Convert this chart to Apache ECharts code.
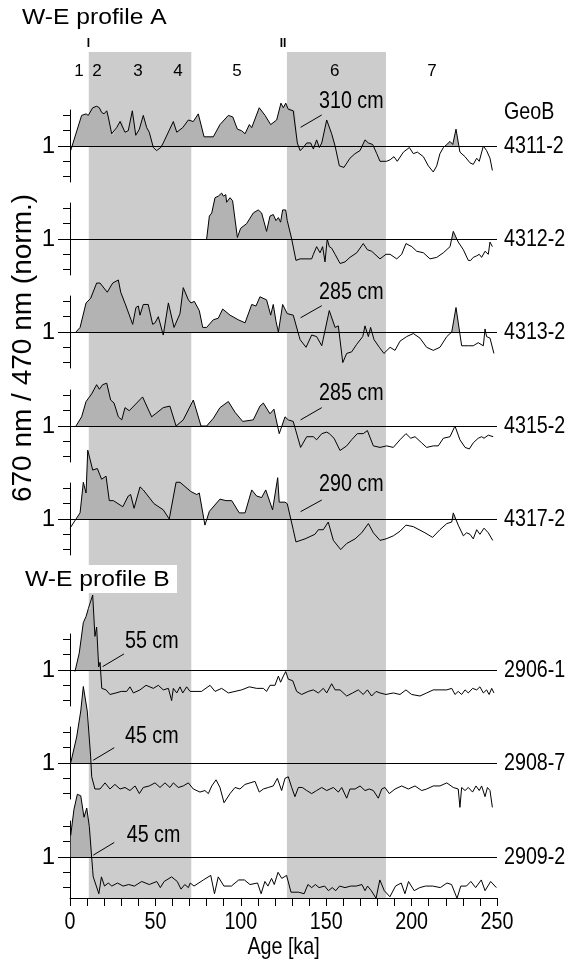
<!DOCTYPE html>
<html>
<head>
<meta charset="utf-8">
<script src="https://cdn.jsdelivr.net/npm/echarts@6/dist/echarts.min.js"></script>
<style>
  html, body { margin: 0; padding: 0; background: #fff; }
  #chart { width: 577px; height: 965px; }
</style>
</head>
<body>
<div id="chart"></div>
<script>
// ---- Age axis ----
const ageMin = 0;
const ageMax = 250;
const ageTickLabels = [0, 50, 100, 150, 200, 250];

// ---- Glacial intervals (shaded), ka ----
const glacialBands = [[11, 71], [127, 185]];

// ---- Marine isotope stages and terminations ----
const stageNames = ['1', '2', '3', '4', '5', '6', '7'];
const stageAges = [5.3, 15.8, 39.8, 63.2, 97.8, 155, 212];
const terminationNames = ['I', 'II'];
const terminationAges = [10.8, 124.7];

// ---- Core names (GeoB) ----
const coreNames = ['4311-2', '4312-2', '4313-2', '4315-2', '4317-2', '2906-1', '2908-7', '2909-2'];

// ---- 670/470 nm reflectance ratio, normalised; [age ka, ratio] ----
const core4311 = [[0.4,0.97],[6.8,1.20],[9.4,1.21],[10.7,1.20],[13.3,1.25],[15.6,1.26],[17.2,1.25],[18.5,1.22],[19.9,1.21],[21.5,1.23],[22.4,1.19],[24.4,1.08],[25.4,1.07],[27.3,1.12],[29.3,1.16],[30.3,1.17],[32.2,1.09],[34.1,1.10],[36.5,1.23],[38.5,1.07],[40.6,1.11],[42.9,1.20],[44.9,1.12],[46.4,1.09],[48.8,0.99],[50.7,0.97],[53.1,0.99],[54.6,1.02],[60.5,1.16],[62.5,1.09],[66.0,1.12],[69.3,1.17],[72.2,1.16],[75.1,1.21],[78.5,1.06],[83.9,1.06],[87.8,1.14],[92.7,1.20],[95.3,1.19],[98.0,1.11],[100.5,1.10],[102.5,1.08],[105.0,1.14],[106.4,1.12],[110.8,1.25],[114.2,1.20],[117.5,1.14],[121.0,1.17],[123.5,1.28],[124.9,1.25],[126.3,1.28],[127.8,1.24],[128.8,1.25],[130.7,1.23],[131.7,1.23],[133.1,1.02],[134.7,0.97],[136.6,0.99],[138.6,1.02],[140.9,1.02],[142.5,0.98],[144.4,1.04],[146.0,0.99],[147.4,1.02],[150.3,1.17],[153.2,1.08],[155.2,1.00],[157.7,0.87],[160.4,0.86],[163.9,0.92],[166.9,0.95],[169.8,0.97],[172.7,1.04],[174.7,1.02],[177.2,1.01],[179.6,0.95],[181.5,0.90],[185.4,0.90],[187.4,0.91],[189.7,0.93],[191.6,0.90],[195.2,0.96],[198.7,0.99],[201.0,0.95],[203.4,0.96],[206.9,0.93],[209.8,0.87],[212.7,0.83],[214.7,0.87],[216.6,0.95],[218.6,0.99],[220.6,1.01],[222.5,1.03],[224.1,1.01],[226.0,1.11],[228.3,0.96],[231.3,0.93],[234.2,0.89],[236.1,0.88],[238.1,0.92],[239.6,0.90],[242.0,1.00],[243.9,0.97],[245.9,0.92],[247.3,0.84]];
const core4312 = [[80.0,1.00],[81.6,1.15],[83.0,1.17],[84.9,1.27],[86.8,1.28],[88.8,1.30],[89.8,1.28],[91.2,1.29],[91.7,1.24],[93.7,1.27],[95.2,1.25],[98.0,1.01],[99.9,1.07],[103.4,1.10],[107.3,1.17],[110.2,1.19],[112.2,1.17],[115.1,1.05],[117.1,1.15],[119.0,1.16],[120.6,1.12],[122.0,1.14],[123.3,1.11],[124.5,1.19],[126.3,1.19],[127.2,1.12],[129.8,1.00],[132.3,0.86],[134.7,0.87],[141.5,0.87],[142.5,0.90],[144.4,0.95],[146.4,0.91],[147.9,0.95],[149.3,0.85],[150.6,1.00],[151.8,0.95],[153.2,0.94],[155.2,0.90],[158.1,0.84],[161.0,0.85],[163.9,0.88],[167.9,0.91],[171.7,0.97],[174.1,0.93],[176.6,0.92],[181.5,0.87],[185.0,0.90],[187.4,0.90],[191.3,0.87],[194.2,0.90],[196.7,0.97],[200.1,0.95],[203.0,0.92],[206.9,0.91],[210.8,0.87],[214.7,0.88],[218.6,0.91],[222.5,0.95],[224.4,1.05],[227.3,0.98],[230.3,0.93],[233.2,0.86],[234.6,0.86],[236.1,0.88],[238.1,0.89],[239.6,0.90],[241.0,0.88],[243.0,0.92],[244.9,0.90],[245.9,0.98],[247.3,0.95]];
const core4313 = [[3.5,1.00],[5.9,1.03],[9.4,1.19],[12.1,1.22],[15.6,1.32],[17.6,1.32],[21.8,1.26],[25.0,1.32],[28.3,1.34],[29.7,1.26],[32.8,1.17],[36.7,1.05],[38.6,1.16],[40.0,1.17],[41.0,1.11],[42.9,1.18],[45.8,1.18],[48.4,1.05],[49.8,1.06],[51.7,1.10],[54.6,0.98],[57.6,1.19],[60.9,1.03],[64.4,1.12],[66.3,1.29],[69.3,1.21],[70.8,1.19],[72.8,1.20],[75.7,1.14],[77.7,1.03],[80.0,1.03],[83.9,1.08],[86.8,1.09],[89.4,1.15],[93.7,1.11],[98.5,1.08],[102.5,1.06],[106.4,1.18],[108.9,1.17],[111.2,1.23],[115.1,1.21],[117.5,1.11],[119.0,1.18],[120.6,1.07],[122.0,1.00],[124.5,1.18],[127.2,1.12],[130.7,1.11],[134.2,0.97],[134.7,0.95],[138.2,0.90],[141.5,0.98],[144.4,0.97],[147.4,0.91],[151.8,1.14],[155.2,1.03],[157.1,1.04],[159.7,0.80],[162.0,0.86],[164.9,0.87],[167.9,0.92],[171.4,0.97],[172.7,1.04],[174.7,0.97],[176.0,1.03],[178.0,0.95],[181.1,0.90],[183.8,0.86],[187.4,0.90],[190.3,0.88],[193.2,0.94],[197.1,0.97],[201.0,0.99],[204.9,0.96],[208.8,0.90],[212.7,0.88],[216.6,0.90],[220.6,0.97],[223.5,1.00],[226.0,1.16],[229.3,0.91],[233.2,0.91],[236.1,0.91],[239.0,0.93],[242.0,0.91],[243.0,1.02],[243.9,0.97],[245.9,0.96],[248.2,0.86]];
const core4315 = [[3.5,1.00],[6.8,1.06],[9.4,1.16],[12.7,1.21],[15.6,1.27],[17.2,1.24],[19.1,1.27],[21.5,1.28],[23.8,1.17],[25.8,1.15],[28.3,1.06],[30.3,1.04],[32.2,1.12],[34.7,1.10],[42.5,1.19],[47.8,1.06],[54.6,1.12],[58.5,1.13],[62.1,1.00],[66.3,1.04],[72.2,1.17],[76.7,1.00],[80.0,1.00],[83.9,1.05],[87.8,1.12],[92.7,1.16],[96.6,1.09],[101.1,1.03],[107.3,1.04],[111.2,1.13],[113.2,1.15],[117.1,1.08],[119.4,1.11],[122.5,0.95],[125.9,1.06],[127.8,1.04],[130.7,1.03],[131.7,0.99],[135.0,0.86],[138.6,0.93],[142.5,0.93],[144.4,0.91],[147.4,0.95],[150.3,0.96],[151.8,0.95],[154.6,0.92],[158.1,0.84],[162.0,0.87],[164.9,0.91],[168.2,0.95],[171.7,0.95],[174.1,0.97],[177.6,0.87],[181.5,0.86],[185.4,0.87],[189.3,0.86],[193.2,0.91],[196.7,0.95],[199.5,0.92],[202.0,0.93],[205.9,0.89],[208.8,0.86],[212.7,0.87],[215.6,0.87],[218.6,0.92],[222.5,0.93],[225.4,1.00],[228.3,0.91],[231.3,0.86],[233.8,0.85],[236.1,0.89],[239.0,0.92],[241.0,0.93],[242.4,0.92],[244.9,0.94],[247.8,0.93]];
const core4317 = [[0.0,0.94],[5.9,1.04],[7.8,1.24],[9.4,1.17],[10.4,1.45],[13.3,1.32],[16.0,1.33],[18.5,1.26],[21.1,1.28],[23.0,1.12],[25.4,1.12],[30.9,1.08],[34.1,1.15],[35.5,1.16],[37.5,1.07],[41.0,1.21],[42.9,1.19],[49.2,1.10],[54.6,1.06],[58.1,1.00],[62.1,1.24],[64.4,1.24],[70.7,1.18],[74.2,1.16],[75.7,1.17],[79.0,0.96],[81.6,1.05],[87.8,1.13],[91.3,1.12],[94.7,1.12],[99.1,1.04],[102.5,1.04],[106.4,1.19],[109.3,1.15],[112.2,1.14],[114.6,1.19],[118.6,1.06],[121.6,1.27],[122.5,1.11],[125.9,1.11],[127.2,1.10],[130.7,0.93],[132.3,0.85],[137.6,0.87],[143.4,0.90],[145.4,0.93],[148.3,0.93],[151.2,0.98],[154.2,0.86],[158.5,0.80],[162.0,0.84],[166.9,0.87],[170.8,0.91],[174.7,0.97],[177.6,0.91],[181.5,0.86],[185.0,0.87],[189.3,0.89],[193.2,0.92],[196.7,0.96],[201.0,0.95],[207.8,0.91],[212.3,0.88],[216.6,0.93],[220.6,0.97],[223.5,0.98],[224.4,1.04],[227.3,0.96],[230.3,0.89],[232.2,0.91],[234.2,0.90],[236.1,0.87],[238.1,0.93],[240.0,0.90],[242.4,0.94],[244.9,0.91],[245.9,0.92],[247.5,0.86]];
const core2906 = [[2.9,0.99],[5.4,1.11],[7.8,1.31],[9.4,1.35],[10.7,1.40],[11.7,1.39],[13.3,1.49],[14.6,1.22],[15.6,1.28],[16.8,1.02],[17.6,1.05],[18.6,0.88],[21.1,0.87],[23.4,0.84],[26.9,0.85],[30.0,0.86],[33.2,0.86],[35.1,0.89],[37.1,0.85],[41.0,0.87],[44.5,0.90],[48.8,0.88],[51.7,0.90],[54.6,0.87],[57.6,0.88],[59.5,0.80],[60.5,0.88],[62.5,0.85],[64.4,0.89],[66.0,0.85],[68.3,0.89],[70.3,0.86],[73.2,0.86],[77.0,0.86],[82.0,0.90],[84.9,0.86],[88.8,0.88],[92.7,0.85],[96.6,0.86],[100.5,0.87],[105.0,0.89],[109.3,0.88],[113.2,0.88],[115.1,0.86],[117.1,0.90],[120.0,0.90],[122.0,0.96],[123.3,0.92],[124.9,0.96],[126.3,0.99],[127.8,0.94],[130.4,0.93],[132.7,0.86],[135.6,0.84],[139.5,0.86],[142.5,0.87],[145.4,0.85],[148.3,0.88],[150.3,0.85],[153.2,0.91],[155.2,0.87],[158.1,0.87],[162.0,0.83],[165.5,0.85],[168.8,0.87],[171.7,0.84],[174.1,0.87],[176.6,0.83],[179.2,0.86],[181.5,0.85],[185.0,0.84],[189.3,0.85],[193.2,0.84],[196.7,0.87],[200.0,0.84],[204.9,0.83],[208.8,0.85],[212.7,0.87],[216.6,0.87],[220.6,0.87],[223.5,0.88],[225.4,0.84],[227.3,0.86],[229.3,0.84],[231.3,0.87],[233.2,0.85],[235.7,0.88],[238.1,0.87],[240.0,0.89],[242.0,0.85],[243.9,0.87],[245.4,0.84],[246.9,0.88],[248.2,0.85]];
const core2908 = [[0.4,1.00],[3.9,1.17],[6.3,1.34],[7.8,1.50],[10.1,1.34],[12.1,1.04],[12.7,0.91],[14.6,0.83],[17.6,0.83],[20.5,0.87],[23.4,0.83],[26.3,0.86],[29.3,0.83],[32.2,0.84],[35.1,0.82],[38.1,0.85],[40.6,0.80],[42.9,0.84],[46.4,0.85],[49.8,0.87],[52.7,0.84],[55.6,0.87],[58.5,0.84],[60.5,0.87],[63.4,0.84],[66.3,0.85],[69.3,0.87],[72.2,0.83],[76.1,0.81],[79.0,0.82],[81.0,0.80],[83.0,0.85],[85.5,0.89],[87.8,0.84],[90.2,0.74],[93.7,0.80],[96.6,0.84],[99.5,0.83],[102.5,0.86],[105.4,0.87],[108.3,0.88],[110.8,0.81],[113.2,0.83],[116.1,0.84],[119.0,0.85],[121.4,0.90],[123.9,0.82],[125.9,0.90],[127.8,0.91],[129.8,0.84],[131.7,0.78],[133.7,0.84],[136.0,0.84],[138.6,0.82],[141.5,0.80],[144.4,0.82],[147.4,0.84],[150.3,0.82],[154.2,0.84],[157.1,0.81],[159.1,0.84],[162.0,0.77],[163.9,0.83],[166.9,0.83],[169.8,0.85],[172.7,0.82],[175.3,0.83],[177.6,0.82],[180.5,0.77],[182.5,0.83],[184.4,0.84],[186.9,0.80],[190.3,0.83],[194.2,0.85],[198.1,0.83],[202.0,0.85],[205.9,0.82],[208.8,0.83],[212.7,0.85],[216.6,0.85],[220.6,0.87],[224.4,0.84],[227.3,0.83],[228.3,0.71],[229.3,0.84],[231.3,0.82],[233.2,0.84],[235.7,0.81],[237.7,0.85],[239.6,0.82],[241.0,0.85],[243.0,0.78],[244.4,0.84],[245.9,0.82],[247.3,0.71]];
const core2909 = [[0.4,1.14],[2.3,1.31],[4.3,1.41],[6.3,1.40],[8.2,1.26],[9.8,1.32],[11.3,1.20],[13.3,0.91],[13.6,0.87],[16.9,0.76],[18.4,0.87],[20.2,0.81],[22.4,0.83],[24.5,0.81],[27.8,0.83],[31.1,0.81],[34.4,0.82],[37.7,0.81],[42.0,0.84],[46.4,0.82],[50.8,0.84],[52.9,0.80],[55.1,0.84],[59.5,0.87],[62.8,0.84],[65.0,0.79],[67.2,0.82],[69.3,0.80],[70.4,0.83],[72.6,0.81],[78.1,0.85],[82.4,0.88],[84.6,0.76],[86.8,0.87],[90.1,0.81],[94.5,0.81],[98.8,0.85],[102.1,0.85],[105.4,0.82],[109.8,0.83],[111.9,0.76],[114.1,0.84],[115.9,0.81],[118.0,0.86],[119.6,0.82],[121.8,0.90],[124.0,0.86],[126.8,0.88],[129.4,0.77],[133.8,0.77],[137.1,0.76],[139.3,0.82],[141.5,0.80],[143.7,0.82],[145.8,0.80],[149.1,0.81],[151.3,0.78],[153.5,0.80],[155.6,0.78],[157.8,0.81],[161.0,0.80],[164.4,0.81],[167.6,0.81],[170.9,0.82],[172.7,0.78],[174.2,0.81],[176.4,0.78],[179.2,0.73],[181.4,0.85],[184.0,0.78],[187.3,0.74],[190.6,0.81],[193.9,0.83],[196.1,0.76],[198.2,0.84],[201.5,0.78],[204.8,0.80],[208.1,0.81],[212.4,0.81],[216.8,0.80],[220.7,0.83],[223.4,0.82],[226.6,0.73],[228.8,0.81],[232.1,0.81],[234.7,0.84],[237.5,0.80],[240.8,0.85],[243.0,0.78],[246.3,0.84],[249.6,0.80]];
const coreSeries = [core4311, core4312, core4313, core4315, core4317, core2906, core2908, core2909];

// ---- Depth markers: panel, label, leader line from/to [age, ratio], label anchor ----
const depthNotes = [
  { panel: 0, text: '310 cm', from: [135.0, 1.122], to: [147.4, 1.203], at: [145.8, 1.294] },
  { panel: 2, text: '285 cm', from: [135.0, 1.093], to: [147.4, 1.172], at: [145.8, 1.261] },
  { panel: 3, text: '285 cm', from: [135.0, 1.040], to: [147.4, 1.120], at: [145.8, 1.216] },
  { panel: 4, text: '290 cm', from: [135.0, 1.048], to: [147.4, 1.124], at: [145.8, 1.229] },
  { panel: 5, text: '55 cm',  from: [19.1, 1.022],  to: [31.6, 1.105],  at: [32.2, 1.185] },
  { panel: 6, text: '45 cm',  from: [13.6, 1.018],  to: [25.9, 1.100],  at: [32.2, 1.175] },
  { panel: 7, text: '45 cm',  from: [13.6, 1.012],  to: [25.9, 1.095],  at: [33.2, 1.142] }
];

// ---- Layout ----
const PLOT_LEFT = 70, PLOT_WIDTH = 427;
const BAND_TOP = 52, AXIS_Y = 898;
const baselineY = [146, 239, 332, 426, 519, 670, 763, 857];
const PX_PER_UNIT = 153;      // 0.1 ratio step = 15.3 px
const HALF = 36;              // half height of each panel's y-axis segment
const FONT = '"Liberation Sans", Arial, sans-serif';
const NARROW = 0.82;          // horizontal squeeze giving an Arial-Narrow look
const BAND_COLOR = '#cccccc';
const FILL_COLOR = '#b3b3b3';

const grids = [], xAxes = [], yAxes = [], series = [];

// background grid carrying the shaded glacial bands
grids.push({ left: PLOT_LEFT, width: PLOT_WIDTH, top: BAND_TOP, height: AXIS_Y - BAND_TOP });
xAxes.push({ gridIndex: 0, type: 'value', min: ageMin, max: ageMax, show: false });
yAxes.push({ gridIndex: 0, type: 'value', min: 0, max: 1, show: false });
series.push({
  type: 'custom', xAxisIndex: 0, yAxisIndex: 0, z: 0, silent: true,
  data: glacialBands,
  encode: { x: [0, 1] },
  renderItem: function (params, api) {
    const a = api.coord([api.value(0), 0]);
    const b = api.coord([api.value(1), 0]);
    const cs = params.coordSys;
    return { type: 'rect', shape: { x: a[0], y: cs.y, width: b[0] - a[0], height: cs.height },
             style: { fill: BAND_COLOR } };
  }
});

coreSeries.forEach(function (pts, i) {
  const last = i === coreSeries.length - 1;
  const gi = i + 1;
  const top = baselineY[i] - HALF;
  const height = last ? AXIS_Y - top : 2 * HALF;
  const yMin = 1 - (height - HALF) / PX_PER_UNIT;
  const yMax = 1 + HALF / PX_PER_UNIT;
  grids.push({ left: PLOT_LEFT, width: PLOT_WIDTH, top: top, height: height });

  if (last) {
    xAxes.push({
      gridIndex: gi, type: 'value', min: ageMin, max: ageMax, interval: 10,
      axisLine: { show: true, lineStyle: { color: '#000', width: 1 } },
      axisTick: { show: true, length: 8, lineStyle: { color: '#000', width: 1 } },
      axisLabel: { show: false },
      splitLine: { show: false }
    });
  } else {
    xAxes.push({ gridIndex: gi, type: 'value', min: ageMin, max: ageMax, show: false });
  }

  // axis segment with minor ticks
  yAxes.push({
    gridIndex: gi, type: 'value', position: 'left', min: yMin, max: yMax,
    axisLine: { show: true, lineStyle: { color: '#000', width: 1 } },
    axisTick: { show: true, length: 7, customValues: [0.8, 0.9, 1.1, 1.2], lineStyle: { color: '#000', width: 1 } },
    axisLabel: { show: false },
    splitLine: { show: false }
  });
  // long tick and label at ratio 1
  yAxes.push({
    gridIndex: gi, type: 'value', position: 'left', offset: 0, min: yMin, max: yMax,
    axisLine: { show: false },
    axisTick: { show: true, length: 12, customValues: [1], lineStyle: { color: '#000', width: 1 } },
    axisLabel: { show: true, customValues: [1], margin: 15, fontFamily: FONT, fontSize: 24, color: '#000',
                 formatter: function () { return '1'; } },
    splitLine: { show: false }
  });
  const yi = yAxes.length - 2;

  // shaded area between the curve and ratio 1 where the curve lies above 1
  series.push({
    type: 'custom', xAxisIndex: gi, yAxisIndex: yi, z: 2, silent: true, clip: false,
    data: [[pts[0][0], 1]],
    renderItem: function (params, api) {
      const yb = api.coord([0, 1])[1];
      const poly = [];
      const p0 = api.coord(pts[0]);
      poly.push([p0[0], yb]);
      for (let j = 0; j < pts.length; j++) {
        const p = api.coord(pts[j]);
        poly.push([p[0], Math.min(p[1], yb)]);
        if (j < pts.length - 1) {
          const q = api.coord(pts[j + 1]);
          if ((p[1] - yb) * (q[1] - yb) < 0) {
            const t = (yb - p[1]) / (q[1] - p[1]);
            poly.push([p[0] + t * (q[0] - p[0]), yb]);
          }
        }
      }
      poly.push([api.coord(pts[pts.length - 1])[0], yb]);
      return { type: 'polygon', shape: { points: poly }, style: { fill: FILL_COLOR } };
    }
  });

  // the ratio curve and its reference line at 1
  series.push({
    type: 'line', xAxisIndex: gi, yAxisIndex: yi, z: 3, clip: false,
    data: pts, showSymbol: false, symbol: 'none', silent: true,
    lineStyle: { color: '#000', width: 1 },
    markLine: {
      silent: true, symbol: 'none', label: { show: false },
      lineStyle: { color: '#000', width: 1, type: 'solid' },
      data: [{ yAxis: 1 }]
    }
  });
});

const chart = echarts.init(document.getElementById('chart'), null, { renderer: 'canvas' });
chart.setOption({
  animation: false,
  backgroundColor: '#fff',
  grid: grids, xAxis: xAxes, yAxis: yAxes, series: series
});

// ---- text and annotation layer ----
const graphics = [];
const lastGrid = coreSeries.length;
function px(panel, coord) { return chart.convertToPixel({ gridIndex: panel + 1 }, coord); }
function bgx(age) { return chart.convertToPixel({ gridIndex: 0 }, [age, 0])[0]; }
function narrowText(text, x, y, align, size) {
  return { type: 'text', x: x, y: y, scaleX: NARROW, z: 10,
    style: { text: text, font: size + 'px ' + FONT, fill: '#000',
             textAlign: align, textVerticalAlign: 'middle' } };
}

// profile titles
graphics.push({ type: 'text', x: 22, y: 18, scaleX: 1.12, z: 10,
  style: { text: 'W-E profile A', font: '22px ' + FONT, fill: '#000', textVerticalAlign: 'middle' } });
graphics.push({ type: 'rect', shape: { x: 22, y: 565, width: 155, height: 28 }, z: 9,
  style: { fill: '#fff' } });
graphics.push({ type: 'text', x: 25, y: 580, scaleX: 1.12, z: 10,
  style: { text: 'W-E profile B', font: '22px ' + FONT, fill: '#000', textVerticalAlign: 'middle' } });

// stage numbers and terminations
stageNames.forEach(function (s, k) {
  graphics.push({ type: 'text', x: bgx(stageAges[k]), y: 71, z: 10,
    style: { text: s, font: '17px ' + FONT, fill: '#000', textAlign: 'center', textVerticalAlign: 'middle' } });
});
terminationNames.forEach(function (s, k) {
  graphics.push({ type: 'text', x: bgx(terminationAges[k]), y: 44, z: 10,
    style: { text: s, font: 'bold 12px ' + FONT, fill: '#000', textAlign: 'center', textVerticalAlign: 'middle' } });
});

// core labels
graphics.push(narrowText('GeoB', 504, 112, 'left', 24));
coreNames.forEach(function (name, i) {
  graphics.push(narrowText(name, 504, baselineY[i], 'left', 24));
});

// age tick labels and axis name
ageTickLabels.forEach(function (v) {
  const p = chart.convertToPixel({ gridIndex: lastGrid }, [v, 1]);
  graphics.push(narrowText(String(v), p[0], 922, 'center', 24));
});
graphics.push(narrowText('Age [ka]', bgx((ageMin + ageMax) / 2), 947, 'center', 24));

// y-axis title
graphics.push({ type: 'text', x: 23, y: 348, rotation: Math.PI / 2, z: 10,
  style: { text: '670 nm / 470 nm (norm.)', font: '28px ' + FONT, fill: '#000',
           textAlign: 'center', textVerticalAlign: 'middle' } });

// depth markers
depthNotes.forEach(function (n) {
  const a = px(n.panel, n.from), b = px(n.panel, n.to), t = px(n.panel, n.at);
  graphics.push({ type: 'line', z: 10, shape: { x1: a[0], y1: a[1], x2: b[0], y2: b[1] },
    style: { stroke: '#000', lineWidth: 1 } });
  graphics.push(narrowText(n.text, t[0], t[1], 'left', 24));
});

chart.setOption({ graphic: graphics });
</script>
</body>
</html>
